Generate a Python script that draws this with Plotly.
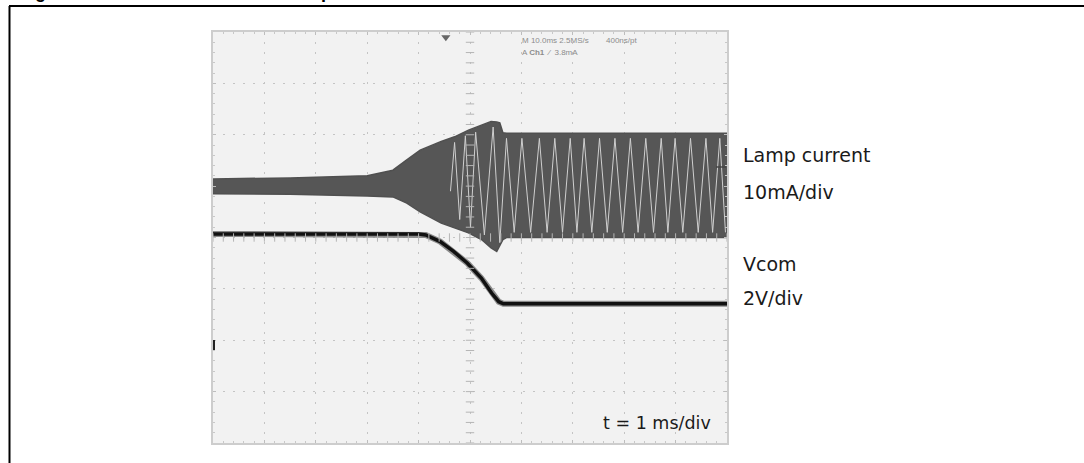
import numpy as np
import plotly.graph_objects as go

W, H = 1084, 463

# ---- data (time in ms, amplitude in divisions) ----
env_time_ms = [0, 1.5, 3.0, 3.5, 3.77, 4.03, 4.44, 4.70, 4.97, 5.24, 5.41, 5.52, 5.58, 5.64, 5.71, 10]
lamp_upper_div = [1.14, 1.16, 1.20, 1.31, 1.51, 1.70, 1.87, 1.96, 2.09, 2.19, 2.26, 2.25, 2.23, 2.04, 2.03, 2.03]
lamp_lower_div = [0.85, 0.84, 0.81, 0.79, 0.67, 0.50, 0.28, 0.19, 0.09, -0.05, -0.20, -0.27, -0.15, -0.04, 0.00, 0.00]

alias_time_ms = [4.62, 4.70, 4.80, 4.91, 5.01, 5.11, 5.28, 5.45, 5.58, 5.71, 5.86, 6.01, 6.18, 6.35,
                 6.50, 6.65, 6.80, 6.95, 7.08, 7.22, 7.37, 7.52, 7.67, 7.82, 7.97, 8.12, 8.27, 8.42,
                 8.57, 8.72, 8.85, 8.99, 9.14, 9.29, 9.44, 9.59, 9.72, 9.86, 9.97]
alias_div = [0.90, 1.85, 0.35, 1.98, 0.20, 2.05, 0.05, 2.15, -0.10, 1.93, 0.10, 1.93, 0.10, 1.93,
             0.10, 1.93, 0.10, 1.93, 0.10, 1.93, 0.10, 1.93, 0.10, 1.93, 0.10, 1.93, 0.10, 1.93,
             0.10, 1.93, 0.10, 1.93, 0.10, 1.93, 0.10, 1.93, 0.10, 1.93, 0.10]

vcom_time_ms = [0, 4.0, 4.14, 4.42, 4.68, 4.95, 5.22, 5.42, 5.56, 5.65, 10]
vcom_div = [0.07, 0.07, 0.05, -0.08, -0.27, -0.50, -0.79, -1.08, -1.25, -1.29, -1.29]

header_line1 = "M 10.0ms 2.5MS/s"
header_rate = "400ns/pt"
header_line2 = "A <b>Ch1</b>  ⁄  3.8mA"
title_text = "Figure 14. Vcom transition at startup"

# ---- geometry helpers (pixel -> paper) ----
def px(x):
    return x / W

def py(y):
    return 1 - y / H

SX0, SX1, SY0, SY1 = 213, 727, 32, 443

fig = go.Figure()

# lamp current band
fig.add_trace(go.Scatter(x=env_time_ms, y=lamp_lower_div, mode="lines",
                         line=dict(color="#505050", width=1.5), hoverinfo="skip"))
fig.add_trace(go.Scatter(x=env_time_ms, y=lamp_upper_div, mode="lines", fill="tonexty",
                         fillcolor="#565656", line=dict(color="#505050", width=1.5), hoverinfo="skip"))
# aliasing light strokes inside the band
fig.add_trace(go.Scatter(x=alias_time_ms, y=alias_div, mode="lines",
                         line=dict(color="#cfcfcf", width=1), hoverinfo="skip"))

# Vcom
fig.add_trace(go.Scatter(x=vcom_time_ms, y=vcom_div, mode="lines",
                         line=dict(color="#8a8a8a", width=6), hoverinfo="skip"))
fig.add_trace(go.Scatter(x=vcom_time_ms, y=vcom_div, mode="lines",
                         line=dict(color="#111111", width=3.5), hoverinfo="skip"))

# graticule centre-line minor ticks
minor = np.arange(-4, 4.01, 0.2)
fig.add_trace(go.Scatter(x=[5] * len(minor), y=minor, mode="markers",
                         marker=dict(symbol="line-ew", size=6, line=dict(color="#b5b5b5", width=1)),
                         hoverinfo="skip"))
minor_x = np.arange(0, 10.01, 0.2)
fig.add_trace(go.Scatter(x=minor_x, y=[0] * len(minor_x), mode="markers",
                         marker=dict(symbol="line-ns", size=6, line=dict(color="#b5b5b5", width=1)),
                         hoverinfo="skip"))
# trigger marker
fig.add_trace(go.Scatter(x=[4.53], y=[3.9], mode="markers",
                         marker=dict(symbol="triangle-down", size=8, color="#666666"),
                         hoverinfo="skip"))

axis_common = dict(showticklabels=False, zeroline=False, showgrid=True,
                   gridcolor="#c4c4c4", gridwidth=1, griddash="2px,8px",
                   showline=True, linecolor="#cdcdcd", linewidth=2, mirror="ticks",
                   ticks="inside", ticklen=3, tickcolor="#bdbdbd", fixedrange=True)
fig.update_layout(
    width=W, height=H, margin=dict(l=0, r=0, t=0, b=0),
    paper_bgcolor="white", plot_bgcolor="#f2f2f2", showlegend=False,
    xaxis=dict(range=[0, 10], dtick=1, domain=[px(SX0), px(SX1)],
               minor=dict(dtick=0.2, ticklen=2, tickcolor="#c8c8c8", ticks="inside"), **axis_common),
    yaxis=dict(range=[-4, 4], dtick=1, domain=[py(SY1), py(SY0)],
               minor=dict(dtick=0.2, ticklen=2, tickcolor="#c8c8c8", ticks="inside"), **axis_common),
)

shapes = [
    # outer frame
    dict(type="line", xref="paper", yref="paper", x0=px(9), x1=px(1084), y0=py(6), y1=py(6),
         line=dict(color="black", width=2)),
    dict(type="line", xref="paper", yref="paper", x0=px(9.5), x1=px(9.5), y0=py(6), y1=py(463),
         line=dict(color="black", width=2)),
    # ground marker on left edge
    dict(type="line", xref="paper", yref="paper", x0=px(214), x1=px(214), y0=py(340), y1=py(350),
         line=dict(color="#222222", width=2)),
    # channel marker on right edge
    dict(type="line", xref="paper", yref="paper", x0=px(716), x1=px(726), y0=py(167), y1=py(167),
         line=dict(color="#444444", width=1.5)),
]
fig.update_layout(shapes=shapes)

lab_font = dict(family="DejaVu Sans", size=19, color="#1a1a1a")
ann = [
    dict(text=title_text, x=px(18), y=py(2.8), xanchor="left", yanchor="bottom",
         font=dict(family="Liberation Sans", size=18, color="black", weight="bold"), borderpad=0),
    dict(text="Lamp current", x=px(741), y=py(155), xanchor="left", yanchor="middle", font=lab_font),
    dict(text="10mA/div", x=px(741), y=py(192), xanchor="left", yanchor="middle", font=lab_font),
    dict(text="Vcom", x=px(741), y=py(264), xanchor="left", yanchor="middle", font=lab_font),
    dict(text="2V/div", x=px(741), y=py(298), xanchor="left", yanchor="middle", font=lab_font),
    dict(text="t = 1 ms/div", x=px(713), y=py(423), xanchor="right", yanchor="middle",
         font=dict(family="DejaVu Sans", size=17.5, color="#1a1a1a")),
    dict(text=header_line1, x=px(520), y=py(41), xanchor="left", yanchor="middle",
         font=dict(family="Liberation Sans", size=8, color="#8c8c8c")),
    dict(text=header_rate, x=px(604), y=py(41), xanchor="left", yanchor="middle",
         font=dict(family="Liberation Sans", size=8, color="#8c8c8c")),
    dict(text=header_line2, x=px(520), y=py(52), xanchor="left", yanchor="middle",
         font=dict(family="Liberation Sans", size=8, color="#8c8c8c")),
]
for a in ann:
    a.update(xref="paper", yref="paper", showarrow=False)
fig.update_layout(annotations=ann)

fig.write_html("out.html", config={"displayModeBar": False},
               post_script="document.body.style.margin='0';document.body.style.overflow='hidden';")
